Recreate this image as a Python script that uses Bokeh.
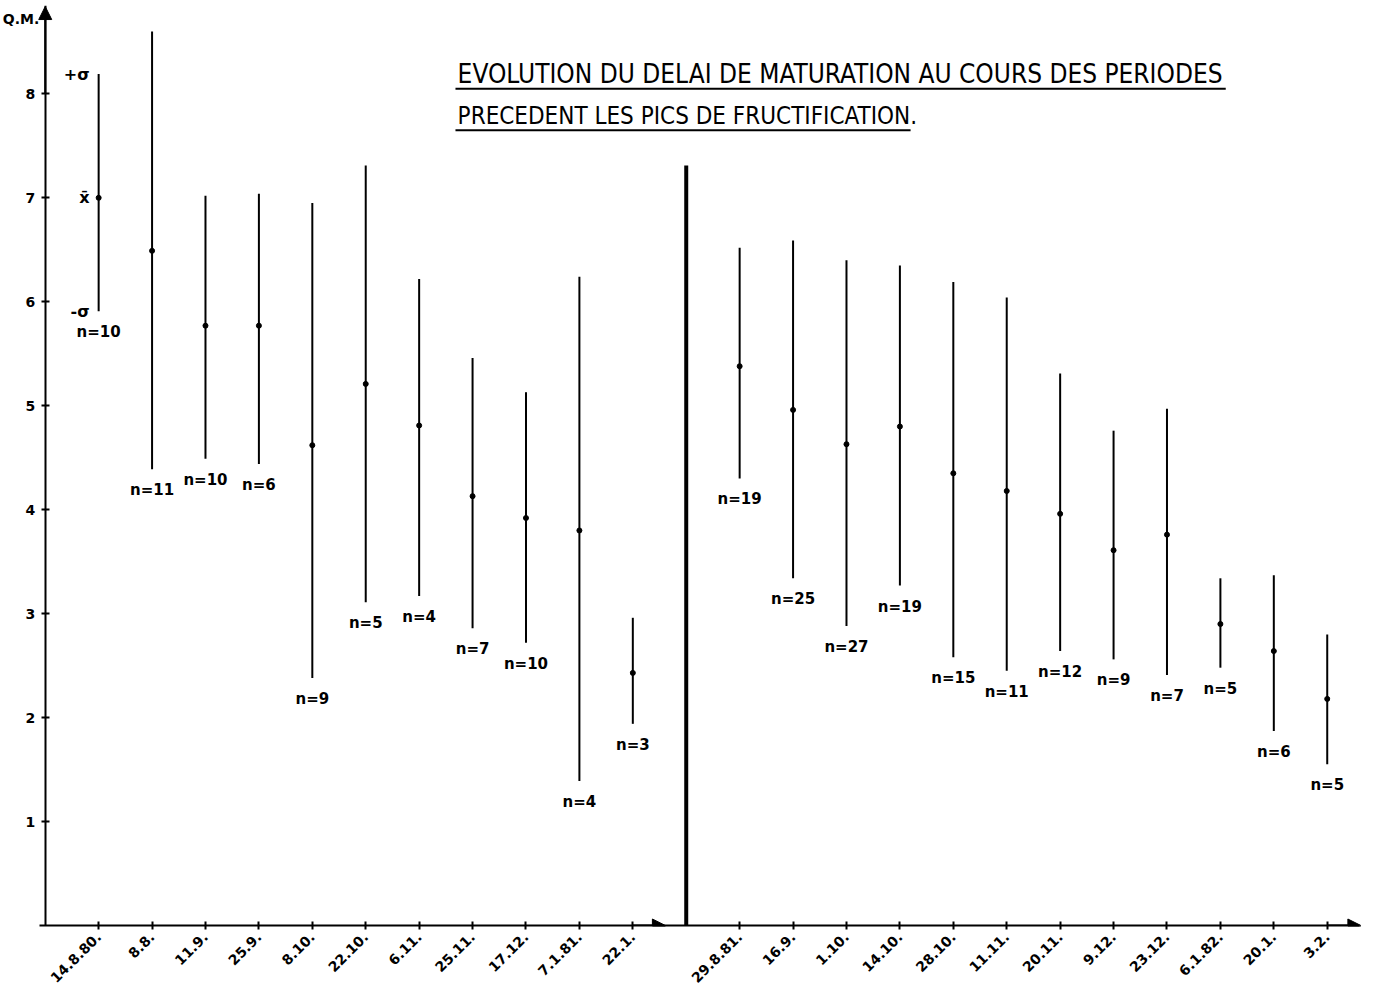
import math
from bokeh.plotting import figure
from bokeh.models import ColumnDataSource, FixedTicker, Range1d, Label, Arrow, NormalHead
from bokeh.core.properties import value
from bokeh.embed import file_html
from bokeh.resources import INLINE

# ---- data ----
dates_1 = ["14.8.80.", "8.8.", "11.9.", "25.9.", "8.10.", "22.10.", "6.11.",
           "25.11.", "17.12.", "7.1.81.", "22.1."]
mean_1 = [7.00, 6.49, 5.77, 5.77, 4.62, 5.21, 4.81, 4.13, 3.92, 3.80, 2.43]
high_1 = [8.19, 8.60, 7.02, 7.04, 6.95, 7.31, 6.22, 5.46, 5.13, 6.24, 2.96]
low_1 = [5.91, 4.39, 4.49, 4.44, 2.38, 3.11, 3.17, 2.86, 2.72, 1.39, 1.94]
n_1 = [10, 11, 10, 6, 9, 5, 4, 7, 10, 4, 3]

dates_2 = ["29.8.81.", "16.9.", "1.10.", "14.10.", "28.10.", "11.11.", "20.11.",
           "9.12.", "23.12.", "6.1.82.", "20.1.", "3.2."]
mean_2 = [5.38, 4.96, 4.63, 4.80, 4.35, 4.18, 3.96, 3.61, 3.76, 2.90, 2.64, 2.18]
high_2 = [6.52, 6.59, 6.40, 6.35, 6.19, 6.04, 5.31, 4.76, 4.97, 3.34, 3.37, 2.80]
low_2 = [4.30, 3.34, 2.88, 3.27, 2.58, 2.45, 2.64, 2.56, 2.41, 2.48, 1.87, 1.55]
n_2 = [19, 25, 27, 19, 15, 11, 12, 9, 7, 5, 6, 5]

y_ticks = [1, 2, 3, 4, 5, 6, 7, 8]
y_label = "Q.M."
title_1 = "EVOLUTION DU DELAI DE MATURATION AU COURS DES PERIODES"
title_2 = "PRECEDENT LES PICS DE FRUCTIFICATION."
legend_texts = ["+\u03c3", "x\u0304", "-\u03c3"]

# ---- build ----
gap = 1  # empty slot where the divider sits
x_1 = list(range(len(dates_1)))
divider_x = len(dates_1)
x_2 = [divider_x + gap + i for i in range(len(dates_2))]
divider_top = 7.31
y_axis_at = -1

xs = x_1 + x_2
src = ColumnDataSource(dict(
    x=xs,
    mean=mean_1 + mean_2,
    high=high_1 + high_2,
    low=low_1 + low_2,
    n=["n=%d" % v for v in n_1 + n_2],
))

FONT = "DejaVu Sans"
p = figure(width=1372, height=990, output_backend="svg", toolbar_location=None,
           x_range=Range1d(-1.8, 23.81), y_range=Range1d(0, 8.85),
           min_border_left=2, min_border_right=2, min_border_top=5,
           min_border_bottom=65)
p.grid.visible = False
p.outline_line_color = None
p.background_fill_color = "white"

# error bars and means
p.segment(x0="x", y0="low", x1="x", y1="high", source=src, line_color="black",
          line_width=2)
p.scatter(x="x", y="mean", source=src, size=5, color="black")
p.text(x="x", y="low", text="n", source=src, text_align="center",
       text_baseline="top", y_offset=12, text_font=value(FONT),
       text_font_style="bold", text_font_size="15px", text_color="black")

# legend beside first bar
leg = ColumnDataSource(dict(x=[x_1[0]] * 3, y=[high_1[0], mean_1[0], low_1[0]],
                            t=legend_texts))
p.text(x="x", y="y", text="t", source=leg, text_align="right",
       text_baseline="middle", x_offset=-9, text_font=value(FONT),
       text_font_style="bold", text_font_size="16px", text_color="black")

# divider
p.segment(x0=[divider_x], y0=[-0.1], x1=[divider_x], y1=[divider_top],
          line_color="black", line_width=4)

# axes
xa = p.xaxis[0]
xa.ticker = FixedTicker(ticks=xs)
xa.major_label_overrides = {x: d for x, d in zip(xs, dates_1 + dates_2)}
xa.major_label_orientation = math.pi / 4
xa.major_label_text_font = FONT
xa.major_label_text_font_style = "bold"
xa.major_label_text_font_size = "14px"
xa.major_label_text_color = "black"
xa.axis_line_width = 2
xa.major_tick_in = 4
xa.major_tick_out = 4
xa.major_tick_line_width = 2
xa.minor_tick_line_color = None
xa.bounds = (y_axis_at - 0.1, 23.6)

ya = p.yaxis[0]
ya.fixed_location = y_axis_at
ya.ticker = FixedTicker(ticks=y_ticks)
ya.major_label_text_font = FONT
ya.major_label_text_font_style = "bold"
ya.major_label_text_font_size = "14px"
ya.major_label_text_color = "black"
ya.axis_line_width = 2
ya.major_tick_in = 4
ya.major_tick_out = 4
ya.major_tick_line_width = 2
ya.minor_tick_line_color = None
ya.major_label_standoff = 6

# arrow heads
p.add_layout(Arrow(end=NormalHead(size=13, fill_color="black", line_color="black"),
                   x_start=divider_x - 1, y_start=0, x_end=divider_x - 0.39, y_end=0,
                   line_width=2))
p.add_layout(Arrow(end=NormalHead(size=13, fill_color="black", line_color="black"),
                   x_start=x_2[-1], y_start=0, x_end=23.63, y_end=0, line_width=2))
p.add_layout(Arrow(end=NormalHead(size=13, fill_color="black", line_color="black"),
                   x_start=y_axis_at, y_start=8, x_end=y_axis_at, y_end=8.84,
                   line_width=2))

p.add_layout(Label(x=y_axis_at, y=8.72, text=y_label, x_offset=-6, text_align="right",
                   text_baseline="middle", text_font=FONT, text_font_style="bold",
                   text_font_size="14px", text_color="black"))

# title
TFONT = "DejaVu Sans Condensed"
p.add_layout(Label(x=6.72, y=8.05, text=title_1, text_align="left",
                   text_baseline="bottom", text_font=TFONT,
                   text_font_size="26px", text_color="black"))
p.add_layout(Label(x=6.72, y=7.65, text=title_2, text_align="left",
                   text_baseline="bottom", text_font=TFONT,
                   text_font_size="24px", text_color="black"))
p.segment(x0=[6.68, 6.68], y0=[8.05, 7.65], x1=[21.1, 15.2], y1=[8.05, 7.65],
          line_color="black", line_width=2)

open("out.html", "w").write(file_html(p, INLINE))
